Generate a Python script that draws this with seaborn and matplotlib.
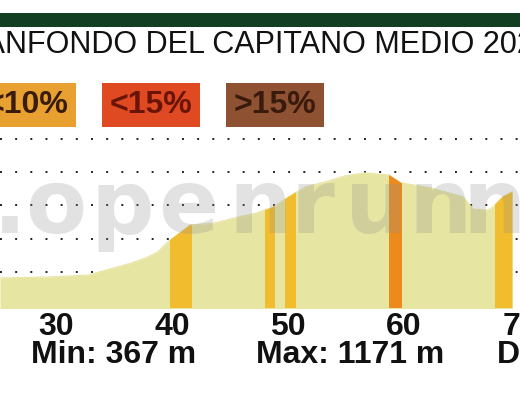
import numpy as np
import matplotlib
matplotlib.use("Agg")
import matplotlib.pyplot as plt
from matplotlib.patches import Rectangle
import seaborn as sns

# elevation profile (km, m)
km = [25.16, 29.4, 32.8, 33.7, 36.5, 37.9, 38.75, 39.6, 41.55, 43.6, 45.3, 47.25,
      48.7, 50.05, 51.5, 53.2, 54.9, 56.6, 58.7, 59.75, 62.3, 65.1, 65.95, 67.2,
      67.65, 68.5, 69.34]
elev = [482, 485, 491, 500, 527, 545, 560, 590, 641, 647, 662, 677,
        695, 726, 756, 771, 789, 798, 792, 768, 753, 726, 689, 686,
        695, 726, 741]

# steep sections (start km, end km, slope class)
seg_start = [39.8, 48.0, 49.75, 58.7, 67.85]
seg_end = [41.7, 48.9, 50.7, 59.8, 69.5]
seg_class = ["<5%", "<5%", "<5%", "<10%", "<5%"]
class_colors = {"<5%": "#F1BC2E", "<10%": "#EC8A1E"}

legend_labels = ["<10%", "<15%", ">15%"]
legend_colors = ["#E8A030", "#E04A22", "#8E5232"]
legend_text_colors = ["#3A1C0C", "#6A1408", "#3A1A0C"]

title = "GRANFONDO DEL CAPITANO MEDIO 2024"
xticks = [30, 40, 50, 60, 70]
min_elev = 367
max_elev = 1171

watermark = ".openrunn"
watermark_px = [-7, 25, 91, 158, 228, 290, 345, 408, 463]

sns.set_theme(style="white")
plt.rcParams["font.family"] = ["Liberation Sans", "DejaVu Sans"]

W, H = 520, 398
fig = plt.figure(figsize=(W / 100, H / 100), dpi=100)
fig.patch.set_facecolor("white")


def fx(px):
    return px / W


def fy(py):
    return 1 - py / H


ax = fig.add_axes([0, fy(308), 1, (308 - 130) / H])
ax.set_xlim(25.16, 69.34)
ax.set_ylim(391.7, 927)
ax.set_facecolor("none")
for s in ax.spines.values():
    s.set_visible(False)

for g in [500, 600, 700, 800, 900]:
    ax.axhline(g, color="#222222", lw=1.4, linestyle=(0, (1, 6.8)), zorder=1)

# watermark, letter by letter
for ch, px in zip(watermark, watermark_px):
    fig.text(fx(px), fy(233), ch, fontsize=64, fontweight="bold",
             family="DejaVu Sans", color="#8E8E8E", alpha=0.25, va="baseline",
             ha="left", zorder=10)

poly = ax.fill_between(km, elev, 0, color="#E7E5A2", lw=0, zorder=2)
sns.lineplot(x=km, y=elev, ax=ax, color="#E7E5A2", lw=0.8, zorder=2)
clip = poly.get_paths()[0]
for a, b, c in zip(seg_start, seg_end, seg_class):
    span = ax.axvspan(a, b, color=class_colors[c], lw=0, zorder=3)
    span.set_clip_path(clip, transform=ax.transData)

ax.set_yticks([])
ax.set_xticks(xticks)
ax.set_xticklabels([str(t) for t in xticks], fontsize=23, fontweight="bold", color="#111111")
ax.tick_params(axis="x", length=0, pad=3)
ax.set_xlabel("")
ax.set_ylabel("")

# header
fig.add_artist(Rectangle((0, fy(27)), 1, 14 / H, color="#123F24", lw=0))
fig.text(fx(-61), fy(45), title, fontsize=22, color="#111111",
         va="center", ha="left")

box_left = [-22, 102, 226]
for x0, lab, col, tc in zip(box_left, legend_labels, legend_colors, legend_text_colors):
    fig.add_artist(Rectangle((fx(x0), fy(127)), 98 / W, 44 / H, color=col, lw=0))
    fig.text(fx(x0 + 49), fy(105), lab, fontsize=23, fontweight="bold", color=tc,
             va="center", ha="center")

fig.text(fx(114), fy(355), f"Min: {min_elev} m", fontsize=23, fontweight="bold",
         color="#111111", va="center", ha="center")
fig.text(fx(350), fy(355), f"Max: {max_elev} m", fontsize=23, fontweight="bold",
         color="#111111", va="center", ha="center")
fig.text(fx(497), fy(355), "D", fontsize=23, fontweight="bold",
         color="#111111", va="center", ha="left")

fig.savefig("out.png", dpi=100)
